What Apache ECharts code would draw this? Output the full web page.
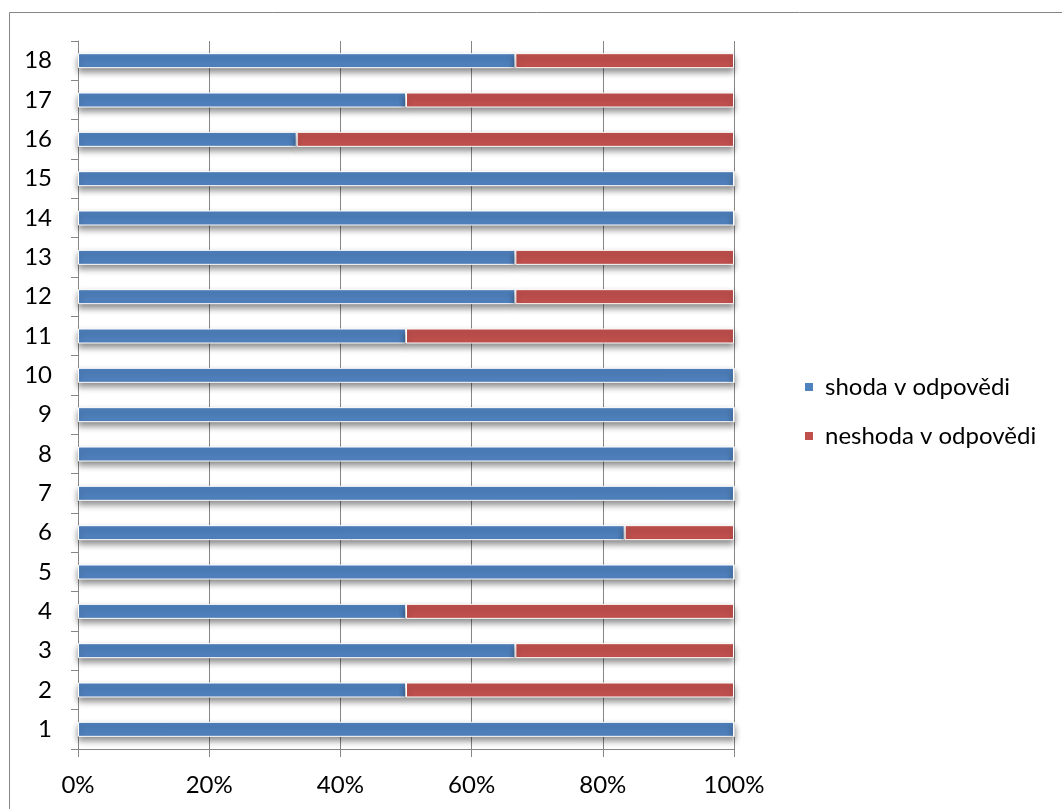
<!DOCTYPE html>
<html>
<head>
<meta charset="utf-8">
<script src="https://cdn.jsdelivr.net/npm/echarts@6/dist/echarts.min.js"></script>
<style>
  html, body { margin: 0; padding: 0; background: #fff; }
  #chart { width: 1062px; height: 809px; }
</style>
</head>
<body>
<div id="chart"></div>
<script>
// Question numbers (bottom to top)
const categories = ['1','2','3','4','5','6','7','8','9','10','11','12','13','14','15','16','17','18'];
// Number of answer pairs that agreed / disagreed, per question
const shodaCounts   = [6, 3, 4, 3, 6, 5, 6, 6, 6, 6, 3, 4, 4, 6, 6, 2, 3, 4];
const neshodaCounts = [0, 3, 2, 3, 0, 1, 0, 0, 0, 0, 3, 2, 2, 0, 0, 4, 3, 2];
const seriesNames = ['shoda v odpovědi', 'neshoda v odpovědi'];
const xTicks = [0, 20, 40, 60, 80, 100];

// 100 % stacked: convert counts into shares of each row total
const totals = shodaCounts.map((v, i) => v + neshodaCounts[i]);
const shodaPct = shodaCounts.map((v, i) => v / totals[i] * 100);
const neshodaPct = neshodaCounts.map((v, i) => v / totals[i] * 100);

const FONT = 'Lato, "Open Sans", sans-serif';
const FS = 24;
const barStyle = (color) => ({
  color: color,
  borderColor: '#ffffff',
  borderWidth: 1,
  shadowColor: 'rgba(0,0,0,0.45)',
  shadowBlur: 6,
  shadowOffsetY: 4
});

const chart = echarts.init(document.getElementById('chart'), null, { renderer: 'canvas' });
chart.setOption({
  animation: false,
  backgroundColor: '#ffffff',
  graphic: [{
    type: 'rect',
    shape: { x: 9.5, y: 12.5, width: 1200, height: 1000 },
    style: { fill: 'none', stroke: '#868686', lineWidth: 1 },
    silent: true
  }],
  grid: { left: 78, right: 328, top: 41, bottom: 60, containLabel: false },
  legend: {
    orient: 'vertical',
    left: 798,
    top: 370,
    itemWidth: 10,
    itemHeight: 10,
    itemGap: 25,
    icon: 'rect',
    textStyle: { fontFamily: FONT, fontSize: FS, color: '#000', padding: [0, 0, 0, 6] },
    data: seriesNames
  },
  xAxis: {
    type: 'value',
    min: xTicks[0],
    max: xTicks[xTicks.length - 1],
    interval: 20,
    axisLine: { show: true, lineStyle: { color: '#868686', width: 1 } },
    axisTick: { show: true, inside: false, length: 8, lineStyle: { color: '#868686' } },
    splitLine: { show: true, lineStyle: { color: '#868686', width: 1 } },
    axisLabel: {
      margin: 24,
      fontFamily: FONT, fontSize: FS, color: '#000',
      formatter: '{value}%'
    }
  },
  yAxis: {
    type: 'category',
    data: categories,
    boundaryGap: true,
    axisLine: { show: true, lineStyle: { color: '#868686', width: 1 } },
    axisTick: { show: true, inside: false, length: 7, lineStyle: { color: '#868686' } },
    splitLine: { show: false },
    axisLabel: { margin: 26, fontFamily: FONT, fontSize: FS, color: '#000' }
  },
  series: [
    {
      name: seriesNames[0],
      type: 'bar',
      stack: 'total',
      barWidth: 15,
      data: shodaPct,
      itemStyle: barStyle('#4F81BD')
    },
    {
      name: seriesNames[1],
      type: 'bar',
      stack: 'total',
      barWidth: 15,
      data: neshodaPct,
      itemStyle: barStyle('#C0504D')
    }
  ]
});
</script>
</body>
</html>
